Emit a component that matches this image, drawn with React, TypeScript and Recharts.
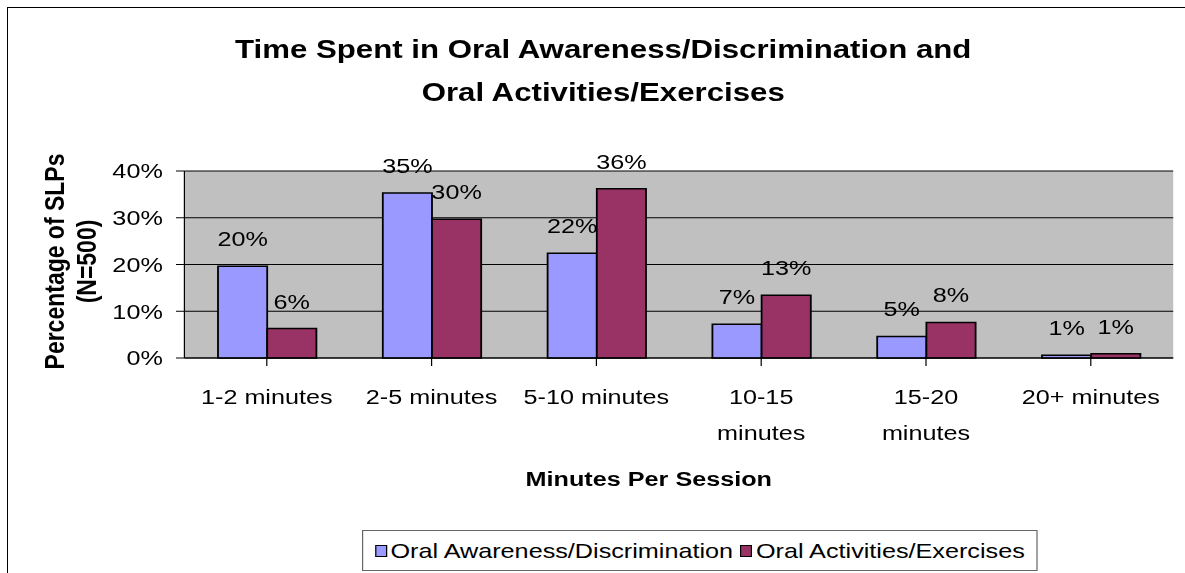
import {
  BarChart,
  Bar,
  XAxis,
  YAxis,
  CartesianGrid,
  Legend,
  LabelList,
} from "recharts";

const FONT = "'Liberation Sans', Arial, sans-serif";

// the original is drawn a little wider than the fonts, so the whole chart is stretched
const STRETCH = 1.2;
const W = 981;
const H = 565;

const categories = [
  "1-2 minutes",
  "2-5 minutes",
  "5-10 minutes",
  "10-15\nminutes",
  "15-20\nminutes",
  "20+ minutes",
];
const awareness = [19.6, 35.3, 22.4, 7.2, 4.6, 0.6];
const activities = [6.3, 29.7, 36.2, 13.4, 7.6, 0.9];
const yTicks = [0, 10, 20, 30, 40];

const seriesNames = ["Oral Awareness/Discrimination", "Oral Activities/Exercises"];
const seriesColors = ["#9999FF", "#993366"];

const data = categories.map((c, i) => ({
  name: c,
  awareness: awareness[i],
  activities: activities[i],
}));

function CategoryTick({ x, y, payload }: any) {
  const lines = String(payload.value).split("\n");
  return (
    <g>
      {lines.map((l, i) => (
        <text
          key={i}
          x={x}
          y={y + 36 + i * 36}
          textAnchor="middle"
          fontSize={21}
          fontFamily={FONT}
          fill="#000"
        >
          {l}
        </text>
      ))}
    </g>
  );
}

function YTitle({ viewBox }: any) {
  const cy = viewBox.y + viewBox.height / 2 - 3;
  const x1 = viewBox.x - 49;
  const x2 = viewBox.x - 22;
  return (
    <g fontFamily={FONT} fontSize={23} fontWeight="bold" fill="#000">
      <text x={x1} y={cy} dy="0.36em" textAnchor="middle" transform={`rotate(-90 ${x1} ${cy})`}>
        Percentage of SLPs
      </text>
      <text x={x2} y={cy} dy="0.36em" textAnchor="middle" transform={`rotate(-90 ${x2} ${cy})`}>
        (N=500)
      </text>
    </g>
  );
}

function XTitle({ viewBox }: any) {
  const cx = viewBox.x + viewBox.width / 2 - 25;
  return (
    <text
      x={cx}
      y={478}
      textAnchor="middle"
      fontFamily={FONT}
      fontSize={21}
      fontWeight="bold"
      fill="#000"
    >
      Minutes Per Session
    </text>
  );
}

function LegendBox({ payload }: any) {
  const items = [...(payload || [])].sort(
    (a: any, b: any) => seriesNames.indexOf(a.value) - seriesNames.indexOf(b.value)
  );
  return (
    <div
      style={{
        border: "1px solid #666",
        height: 41,
        display: "flex",
        alignItems: "center",
        justifyContent: "center",
        fontFamily: FONT,
        fontSize: 21,
        color: "#000",
        background: "#fff",
        boxSizing: "border-box",
      }}
    >
      {items.map((p: any, i: number) => (
        <span key={i} style={{ display: "flex", alignItems: "center", marginLeft: i ? 6 : 0 }}>
          <span
            style={{
              width: 10,
              height: 12,
              background: p.color,
              border: "1px solid #000",
              boxSizing: "border-box",
              marginRight: 3,
            }}
          />
          {p.value}
        </span>
      ))}
    </div>
  );
}

export default function App() {
  return (
    <div
      style={{
        position: "absolute",
        left: 7,
        top: 7,
        width: 1178,
        height: 566,
        borderLeft: "1px solid #000",
        borderTop: "1px solid #000",
        boxSizing: "border-box",
        overflow: "hidden",
        background: "#fff",
      }}
    >
      <div
        style={{
          position: "absolute",
          left: 0,
          top: 0,
          width: W,
          height: H,
          transform: `scaleX(${STRETCH})`,
          transformOrigin: "0 0",
        }}
      >
        <div
          style={{
            position: "absolute",
            left: 0,
            top: 20,
            width: 992,
            textAlign: "center",
            fontFamily: FONT,
            fontSize: 26,
            fontWeight: "bold",
            lineHeight: "43px",
            color: "#000",
          }}
        >
          <div>Time Spent in Oral Awareness/Discrimination and</div>
          <div>Oral Activities/Exercises</div>
        </div>
        <BarChart
          width={W}
          height={H}
          data={data}
          margin={{ top: 163, right: 10, left: 87, bottom: 155 }}
          barCategoryGap={28}
          barGap={0}
        >
          <CartesianGrid vertical={false} stroke="#000" fill="#C0C0C0" />
          <XAxis
            dataKey="name"
            height={60}
            tick={<CategoryTick />}
            tickSize={8}
            stroke="#000"
            interval={0}
            label={{ content: <XTitle /> }}
          />
          <XAxis
            xAxisId="top"
            dataKey="name"
            orientation="top"
            height={0}
            tick={false}
            tickLine={false}
            stroke="#808080"
            strokeWidth={2}
          />
          <YAxis
            domain={[0, 40]}
            ticks={yTicks}
            tickFormatter={(v: number) => `${v}%`}
            width={60}
            tickSize={7}
            tickMargin={11}
            stroke="#000"
            tick={{ fontSize: 21, fill: "#000", fontFamily: FONT }}
            label={{ content: <YTitle /> }}
          />
          <YAxis
            yAxisId="right"
            orientation="right"
            domain={[0, 40]}
            width={0}
            tick={false}
            tickLine={false}
            stroke="#808080"
            strokeWidth={2}
          />
          <Legend
            layout="horizontal"
            verticalAlign="middle"
            align="center"
            content={<LegendBox />}
            wrapperStyle={{ left: 295, top: 522, bottom: "auto", width: 563 }}
          />
          <Bar
            dataKey="awareness"
            name={seriesNames[0]}
            fill={seriesColors[0]}
            stroke="#000"
            strokeWidth={1.5}
            isAnimationActive={false}
          >
            <LabelList
              dataKey="awareness"
              position="top"
              offset={20}
              formatter={(v: any) => `${Math.round(v)}%`}
              style={{ fontSize: 21, fill: "#000", fontFamily: FONT }}
            />
          </Bar>
          <Bar
            dataKey="activities"
            name={seriesNames[1]}
            fill={seriesColors[1]}
            stroke="#000"
            strokeWidth={1.5}
            isAnimationActive={false}
          >
            <LabelList
              dataKey="activities"
              position="top"
              offset={20}
              formatter={(v: any) => `${Math.round(v)}%`}
              style={{ fontSize: 21, fill: "#000", fontFamily: FONT }}
            />
          </Bar>
        </BarChart>
      </div>
    </div>
  );
}
